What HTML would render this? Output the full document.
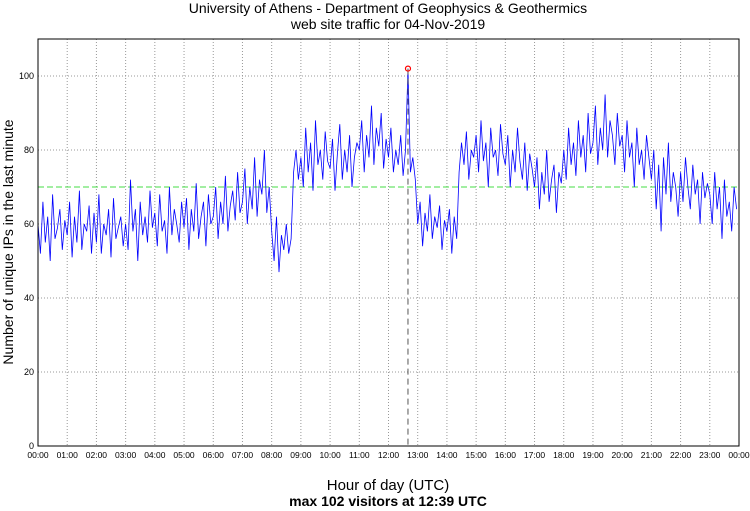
<!DOCTYPE html>
<html><head><meta charset="utf-8"><style>
html,body{margin:0;padding:0;background:#fff;}
svg{display:block;font-family:"Liberation Sans","DejaVu Sans",sans-serif;}
</style></head><body>
<svg id="chart" width="750" height="511" viewBox="0 0 750 511" xmlns="http://www.w3.org/2000/svg">
<rect x="0" y="0" width="750" height="511" fill="#fff"/>
<text x="388" y="13" text-anchor="middle" font-size="14">University of Athens - Department of Geophysics &amp; Geothermics</text>
<text x="388" y="29" text-anchor="middle" font-size="14">web site traffic for 04-Nov-2019</text>
<g id="grid"></g>
<g id="ticks"></g>
<g id="series"></g>
<rect x="38" y="39" width="701" height="407" fill="none" stroke="#000" stroke-width="1"/>
<text transform="translate(13,242) rotate(-90)" text-anchor="middle" font-size="14">Number of unique IPs in the last minute</text>
<text x="388" y="490" text-anchor="middle" font-size="15">Hour of day (UTC)</text>
<text id="maxlabel" x="388" y="506" text-anchor="middle" font-size="14" font-weight="bold">max 102 visitors at 12:39 UTC</text>
</svg>
<script>
const yTicks=[0,20,40,60,80,100];
const hourLabels=["00:00","01:00","02:00","03:00","04:00","05:00","06:00","07:00","08:00","09:00","10:00","11:00","12:00","13:00","14:00","15:00","16:00","17:00","18:00","19:00","20:00","21:00","22:00","23:00","00:00"];
const threshold=70;
const stepMinutes=5;
const visitors=[
60,52,66,55,62,50,68,56,59,64,53,61,
57,66,51,62,55,69,53,60,58,65,52,63,
55,68,52,60,57,64,51,67,56,59,62,54,
60,53,72,58,64,50,66,57,62,55,69,59,
63,54,68,58,61,52,70,57,64,60,55,66,
59,67,53,64,58,71,56,62,66,54,68,60,
62,70,56,66,60,73,58,65,69,61,74,63,
66,75,60,70,64,78,62,72,68,80,63,70,
58,50,62,47,57,53,60,52,56,74,80,72,
78,70,86,74,82,69,88,76,80,72,85,77,
75,83,69,79,87,72,80,74,84,70,78,82,
80,88,74,84,78,92,76,86,81,90,75,83,
78,86,74,80,76,84,73,80,102,74,78,72,
60,66,54,63,58,68,56,62,59,65,53,61,
58,64,52,62,56,74,82,76,85,72,80,78,
84,74,88,77,82,70,86,78,80,73,87,79,
76,84,70,80,74,86,77,72,82,69,79,75,
70,78,64,74,68,80,66,72,76,63,74,71,
80,72,86,76,82,73,88,78,84,74,90,79,
82,92,76,86,80,95,78,88,84,76,90,81,
84,74,88,78,82,70,86,76,80,72,84,78,
72,80,64,76,58,78,68,82,66,74,70,62,
74,66,78,70,64,76,68,72,60,74,67,71,
68,60,74,64,70,56,72,62,66,58,70,64
];
const NS="http://www.w3.org/2000/svg";
const X0=38,X1=739,Y0=446,Y1=39,YMAX=110;
const xs=m=>X0+(m/1440)*(X1-X0);
const ys=v=>Y0-(v/YMAX)*(Y0-Y1);
function mk(tag,attrs,parent){const e=document.createElementNS(NS,tag);for(const k in attrs)e.setAttribute(k,attrs[k]);parent.appendChild(e);return e;}
const grid=document.getElementById('grid'),ticks=document.getElementById('ticks'),series=document.getElementById('series');
yTicks.forEach(v=>{
  const y=ys(v);
  if(v>0){const g=mk('line',{x1:X0,x2:X1,y1:y,y2:y,stroke:'#999','stroke-dasharray':'1,2','stroke-width':1},grid);
  
  }
  const t=mk('text',{x:X0-4,y:y+3,'text-anchor':'end','font-size':9},ticks);
  t.textContent=v;
  
  
});
hourLabels.forEach((lab,i)=>{
  const x=xs(i*60);
  if(i>0&&i<hourLabels.length-1){const g=mk('line',{x1:x,x2:x,y1:Y1,y2:Y0,stroke:'#999','stroke-dasharray':'1,2','stroke-width':1},grid);
  
  }
  const t=mk('text',{x:x,y:Y0+12,'text-anchor':'middle','font-size':8.5},ticks);
  t.textContent=lab;
  
  
});
const th=mk('line',{x1:X0,x2:X1,y1:ys(threshold),y2:ys(threshold),stroke:'#44dd44','stroke-dasharray':'6,3','stroke-width':1},series);


let pts=visitors.map((v,i)=>xs(i*stepMinutes).toFixed(1)+','+ys(v).toFixed(1)).join(' ');
const pl=mk('polyline',{points:pts,fill:'none',stroke:'#0000ff','stroke-width':0.8},series);


let mi=0;visitors.forEach((v,i)=>{if(v>visitors[mi])mi=i;});
const mx=xs(mi*stepMinutes),my=ys(visitors[mi]);
const vl=mk('line',{x1:mx,x2:mx,y1:my,y2:Y0,stroke:'#555','stroke-dasharray':'6,4','stroke-width':1},series);


const c=mk('circle',{cx:mx,cy:my,r:2.5,fill:'none',stroke:'#ff0000','stroke-width':1.2},series);


</script>
</body></html>
